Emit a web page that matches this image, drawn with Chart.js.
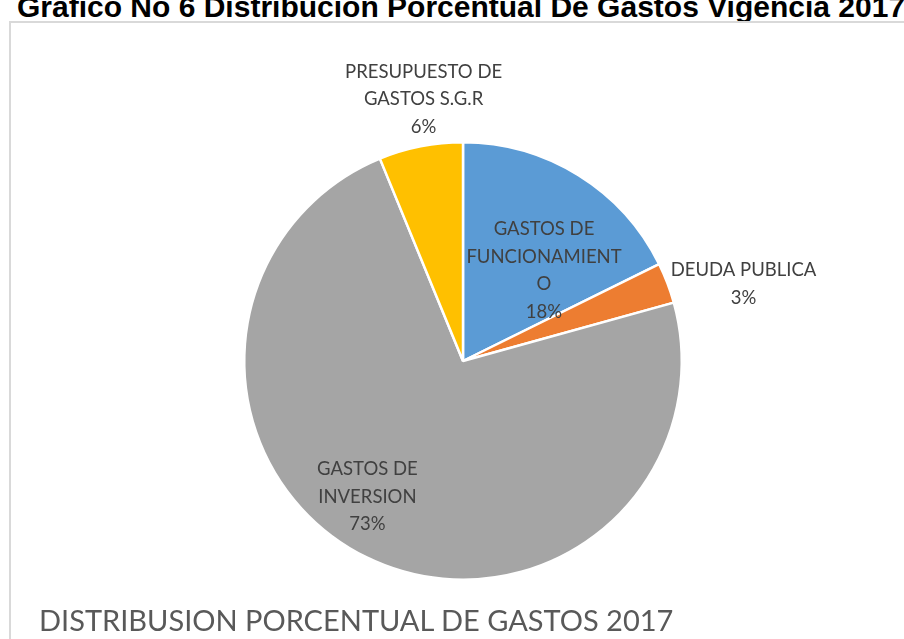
<!DOCTYPE html>
<html>
<head>
<meta charset="utf-8">
<script src="https://cdn.jsdelivr.net/npm/chart.js@4"></script>
<style>
  html, body { margin: 0; padding: 0; background: #fff; }
  body { width: 904px; height: 639px; position: relative; overflow: hidden; }
  #heading {
    position: absolute; left: 17px; top: -10px; white-space: nowrap;
    font-family: "Liberation Sans", Arial, sans-serif; font-weight: bold;
    font-size: 30px; color: #000;
  }
  #frame {
    position: absolute; left: 9px; top: 21px; width: 910px; height: 640px;
    border: 2px solid #d9d9d9; box-sizing: border-box;
  }
  #wrap { position: absolute; left: 0; top: 0; width: 904px; height: 639px; }
  #subtitle {
    position: absolute; left: 39px; top: 602px; white-space: nowrap;
    font-family: Lato, "Open Sans", sans-serif; font-size: 29px; color: #595959;
  }
</style>
</head>
<body>
<div id="heading">Grafico No 6 Distribución Porcentual De Gastos Vigencia 2017</div>
<div id="frame"></div>
<div id="wrap"><canvas id="pieChart" width="904" height="639"></canvas></div>
<div id="subtitle">DISTRIBUSION PORCENTUAL DE GASTOS 2017</div>
<script>
// categorias y porcentajes
var categorias = ['GASTOS DE FUNCIONAMIENTO', 'DEUDA PUBLICA', 'GASTOS DE INVERSION', 'PRESUPUESTO DE GASTOS S.G.R'];
var porcentajes = [17.7, 3.0, 73.1, 6.2];
var lineasEtiqueta = [
    ['GASTOS DE', 'FUNCIONAMIENT', 'O'],
    ['DEUDA PUBLICA'],
    ['GASTOS DE', 'INVERSION'],
    ['PRESUPUESTO DE', 'GASTOS S.G.R']
];
var colores = ['#5B9BD5', '#ED7D31', '#A5A5A5', '#FFC000'];

// donde va cada etiqueta: giro respecto al centro del sector (grados) y distancia relativa al radio
var ubicacion = [
    { giro: 10, dist: 0.555 },
    { giro: 5.5, dist: 1.33 },
    { giro: 9, dist: 0.76 },
    { giro: 2.6, dist: 1.21 }
];

var etiquetasPlugin = {
    id: 'etiquetas',
    afterDatasetsDraw: function (chart) {
        var ctx = chart.ctx;
        var meta = chart.getDatasetMeta(0);
        ctx.save();
        ctx.font = '18.5px Lato, "Open Sans", sans-serif';
        ctx.fillStyle = '#404040';
        ctx.textAlign = 'center';
        ctx.textBaseline = 'middle';
        meta.data.forEach(function (arc, i) {
            var p = arc.getProps(['x', 'y', 'startAngle', 'endAngle', 'outerRadius'], true);
            var ang = (p.startAngle + p.endAngle) / 2 + ubicacion[i].giro * Math.PI / 180;
            var r = p.outerRadius * ubicacion[i].dist;
            var cx = p.x + Math.cos(ang) * r;
            var cy = p.y + Math.sin(ang) * r;
            var lineas = lineasEtiqueta[i].concat([Math.round(porcentajes[i]) + '%']);
            var alto = 27.5;
            var y0 = cy - (lineas.length - 1) * alto / 2;
            lineas.forEach(function (t, k) {
                ctx.fillText(t, cx, y0 + k * alto);
            });
        });
        ctx.restore();
    }
};

var ctx = document.getElementById('pieChart').getContext('2d');
var pieChart = new Chart(ctx, {
    type: 'pie',
    data: {
        labels: categorias,
        datasets: [{
            data: porcentajes,
            backgroundColor: colores,
            borderColor: '#ffffff',
            borderWidth: 2.5
        }]
    },
    options: {
        responsive: false,
        animation: false,
        layout: { padding: { left: 243, right: 221, top: 141, bottom: 58 } },
        plugins: {
            legend: { display: false },
            title: { display: false },
            tooltip: { enabled: false }
        }
    },
    plugins: [etiquetasPlugin]
});
</script>
</body>
</html>
